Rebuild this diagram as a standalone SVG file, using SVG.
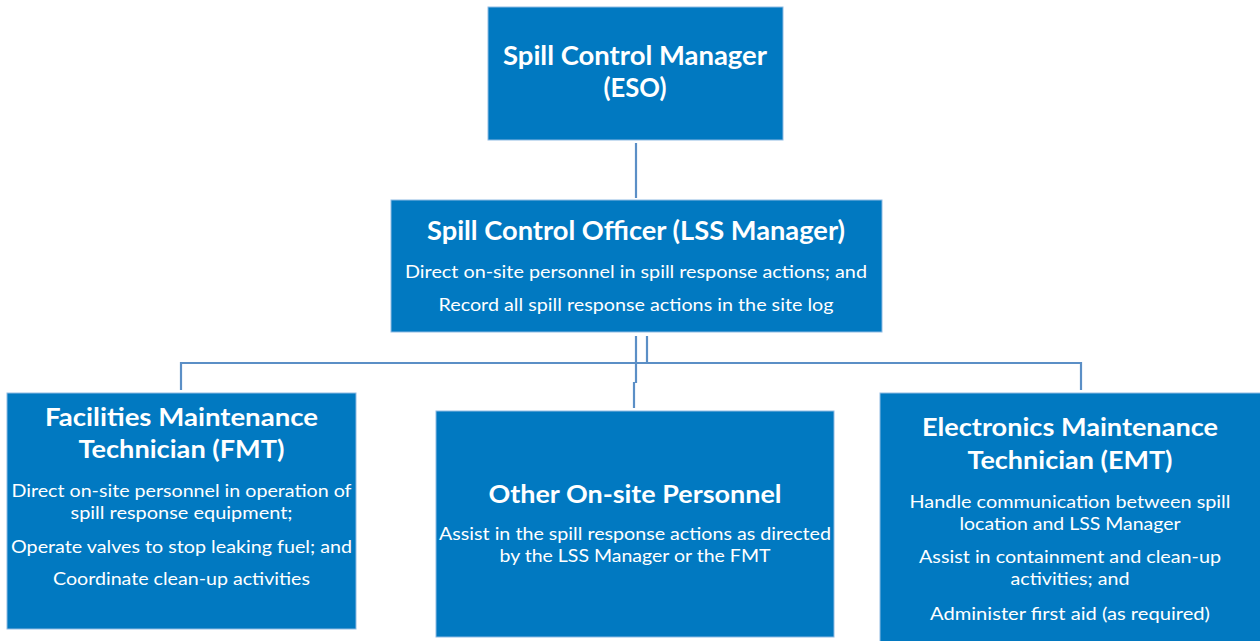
<svg xmlns="http://www.w3.org/2000/svg" width="1260" height="641" viewBox="0 0 1260 641">
<style>
.box{fill:#0179c1;stroke:#8fbbe3;stroke-width:1}
.t{font-family:Lato,"Open Sans",sans-serif;font-weight:bold;fill:#ffffff;text-anchor:middle}
.b{font-family:Lato,"Open Sans",sans-serif;font-weight:normal;fill:#ffffff;text-anchor:middle;font-size:18px}
.c{fill:none;stroke:#5b8fc6;stroke-width:2.2}
</style>
<rect width="1260" height="641" fill="#ffffff"/>
<g id="connectors">
<line class="c" x1="636" y1="143" x2="636" y2="198"/>
<polyline class="c" points="181,390 181,363 1081,363 1081,390"/>
<line class="c" x1="636" y1="336" x2="636" y2="383"/>
<line class="c" x1="647" y1="336" x2="647" y2="363"/>
<line class="c" x1="634" y1="382" x2="634" y2="408"/>
</g>
<g id="node-manager">
<rect class="box" x="488" y="7" width="295" height="133"/>
<text class="t" x="635" y="65" font-size="26.5" textLength="264" lengthAdjust="spacingAndGlyphs">Spill Control Manager</text>
<text class="t" x="635" y="97" font-size="26.5" textLength="63" lengthAdjust="spacingAndGlyphs">(ESO)</text>
</g>
<g id="node-officer">
<rect class="box" x="391" y="200" width="491" height="132"/>
<text class="t" x="636" y="240" font-size="26" textLength="418" lengthAdjust="spacingAndGlyphs">Spill Control Officer (LSS Manager)</text>
<text class="b" x="636" y="278" textLength="462" lengthAdjust="spacingAndGlyphs">Direct on-site personnel in spill response actions; and</text>
<text class="b" x="636" y="311" textLength="395" lengthAdjust="spacingAndGlyphs">Record all spill response actions in the site log</text>
</g>
<g id="node-fmt">
<rect class="box" x="7" y="393" width="349" height="236"/>
<text class="t" x="181.5" y="426" font-size="25" textLength="273" lengthAdjust="spacingAndGlyphs">Facilities Maintenance</text>
<text class="t" x="181.5" y="458" font-size="25" textLength="206" lengthAdjust="spacingAndGlyphs">Technician (FMT)</text>
<text class="b" x="181.5" y="497" textLength="340" lengthAdjust="spacingAndGlyphs">Direct on-site personnel in operation of</text>
<text class="b" x="181.5" y="519" textLength="222" lengthAdjust="spacingAndGlyphs">spill response equipment;</text>
<text class="b" x="181.5" y="553" textLength="341" lengthAdjust="spacingAndGlyphs">Operate valves to stop leaking fuel; and</text>
<text class="b" x="181.5" y="585" textLength="257" lengthAdjust="spacingAndGlyphs">Coordinate clean-up activities</text>
</g>
<g id="node-other">
<rect class="box" x="436" y="411" width="398" height="226"/>
<text class="t" x="635" y="503" font-size="25" textLength="293" lengthAdjust="spacingAndGlyphs">Other On-site Personnel</text>
<text class="b" x="635" y="540" textLength="392" lengthAdjust="spacingAndGlyphs">Assist in the spill response actions as directed</text>
<text class="b" x="635" y="562" textLength="271" lengthAdjust="spacingAndGlyphs">by the LSS Manager or the FMT</text>
</g>
<g id="node-emt">
<rect class="box" x="880" y="393" width="385" height="255"/>
<text class="t" x="1070" y="436" font-size="25" textLength="296" lengthAdjust="spacingAndGlyphs">Electronics Maintenance</text>
<text class="t" x="1070" y="469" font-size="25" textLength="205" lengthAdjust="spacingAndGlyphs">Technician (EMT)</text>
<text class="b" x="1070" y="508" textLength="321" lengthAdjust="spacingAndGlyphs">Handle communication between spill</text>
<text class="b" x="1070" y="530" textLength="221" lengthAdjust="spacingAndGlyphs">location and LSS Manager</text>
<text class="b" x="1070" y="563" textLength="302" lengthAdjust="spacingAndGlyphs">Assist in containment and clean-up</text>
<text class="b" x="1070" y="585" textLength="119" lengthAdjust="spacingAndGlyphs">activities; and</text>
<text class="b" x="1070" y="620" textLength="280" lengthAdjust="spacingAndGlyphs">Administer first aid (as required)</text>
</g>
</svg>
